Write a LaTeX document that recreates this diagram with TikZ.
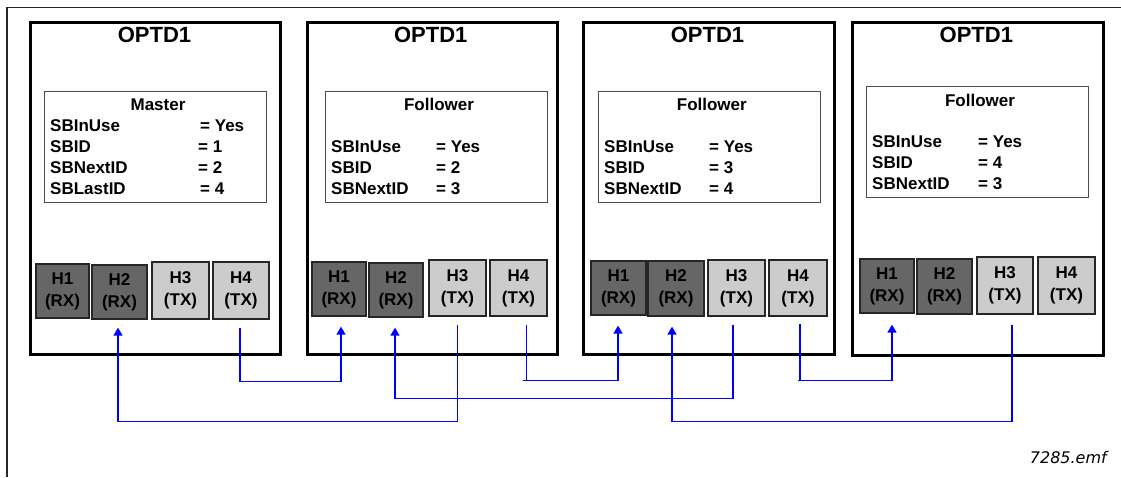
\documentclass[tikz,border=0pt]{standalone}
\usepackage{fontspec}
\setmainfont{Liberation Sans}
\newfontfamily\emffont{DejaVu Sans}
\usetikzlibrary{arrows.meta}
\definecolor{rxgray}{HTML}{666666}
\definecolor{txgray}{HTML}{CCCCCC}
\definecolor{linkblue}{HTML}{0000FF}
\begin{document}
\begin{tikzpicture}[x=1pt,y=-1pt,
  frameline/.style={draw=black!85,line width=1.4pt},
  modbox/.style={draw=black,line width=3pt,minimum width=250pt,minimum height=332pt,inner sep=0pt},
  infobox/.style={draw=black!70,line width=1pt,minimum width=222pt,minimum height=111pt,inner sep=0pt},
  modtitle/.style={font=\fontsize{22}{26}\selectfont\bfseries,inner sep=0pt,text height=15.8pt,text depth=0pt},
  infotxt/.style={font=\fontsize{17}{20}\selectfont\bfseries,inner sep=0pt,text height=12.2pt,text depth=0pt},
  infoleft/.style={infotxt,anchor=west},
  portbase/.style={draw=black!85,line width=1.3pt,inner sep=0pt,align=center,
    font=\fontsize{17}{22}\selectfont\bfseries},
  rx/.style={portbase,fill=rxgray},
  tx/.style={portbase,fill=txgray},
  conn/.style={draw=linkblue,line width=1.6pt,-{Triangle[length=8pt,width=9pt]}}
]
\useasboundingbox (0,0) rectangle (1121,477);
% outer frame (top and left edges)
\coordinate (ftl) at (7,7.5);
\coordinate (ftr) at (1121,7.5);
\coordinate (fbl) at (7,477);
\draw[frameline] (ftr) -- (ftl) -- (fbl);

% modules
\node[modbox] (m1) at (155,188) {};
\node[modbox] (m2) at (432,188) {};
\node[modbox,minimum width=251pt] (m3) at (708.5,188) {};
\node[modbox,minimum width=251pt,minimum height=333pt] (m4) at (977.5,188.5) {};

\node[modtitle] (t1) at (154.5,35) {OPTD1};
\node[modtitle] (t2) at (430.8,35) {OPTD1};
\node[modtitle] (t3) at (707.5,35) {OPTD1};
\node[modtitle] (t4) at (976.3,35) {OPTD1};

% info boxes
\node[infobox] (i1) at (155,146.5) {};
\node[infobox] (i2) at (436,146.5) {};
\node[infobox] (i3) at (709,146.5) {};
\node[infobox] (i4) at (977,141.5) {};

% module 1 (Master)
\node[infotxt] (i1h) at (158,104) {Master};
\node[infoleft] (i1l1) at (50,125) {SBInUse};
\node[infoleft] (i1l2) at (50,146) {SBID};
\node[infoleft] (i1l3) at (50,167) {SBNextID};
\node[infoleft] (i1l4) at (50,188) {SBLastID};
\node[infoleft] (i1v1) at (200,125) {= Yes};
\node[infoleft] (i1v2) at (198,146) {= 1};
\node[infoleft] (i1v3) at (198,167) {= 2};
\node[infoleft] (i1v4) at (200,188) {= 4};

% module 2
\node[infotxt] (i2h) at (439,104) {Follower};
\node[infoleft] (i2l1) at (331,146) {SBInUse};
\node[infoleft] (i2l2) at (331,167) {SBID};
\node[infoleft] (i2l3) at (331,188) {SBNextID};
\node[infoleft] (i2v1) at (436,146) {= Yes};
\node[infoleft] (i2v2) at (436,167) {= 2};
\node[infoleft] (i2v3) at (436,188) {= 3};

% module 3
\node[infotxt] (i3h) at (711.8,104) {Follower};
\node[infoleft] (i3l1) at (604,146) {SBInUse};
\node[infoleft] (i3l2) at (604,167) {SBID};
\node[infoleft] (i3l3) at (604,188) {SBNextID};
\node[infoleft] (i3v1) at (709,146) {= Yes};
\node[infoleft] (i3v2) at (709,167) {= 3};
\node[infoleft] (i3v3) at (709,188) {= 4};

% module 4
\node[infotxt] (i4h) at (980,100) {Follower};
\node[infoleft] (i4l1) at (872,141) {SBInUse};
\node[infoleft] (i4l2) at (872,162) {SBID};
\node[infoleft] (i4l3) at (872,183) {SBNextID};
\node[infoleft] (i4v1) at (978,141) {= Yes};
\node[infoleft] (i4v2) at (978,162) {= 4};
\node[infoleft] (i4v3) at (978,183) {= 3};

% ports module 1
\node[rx,minimum width=53pt,minimum height=54pt] (m1h1) at (62.5,291) {H1\\(RX)};
\node[rx,minimum width=55pt,minimum height=54pt] (m1h2) at (119.5,292) {H2\\(RX)};
\node[tx,minimum width=57pt,minimum height=57pt] (m1h3) at (180.5,290.5) {H3\\(TX)};
\node[tx,minimum width=56pt,minimum height=57pt] (m1h4) at (241,290.5) {H4\\(TX)};
% ports module 2
\node[rx,minimum width=54pt,minimum height=54pt] (m2h1) at (339,289) {H1\\(RX)};
\node[rx,minimum width=54pt,minimum height=54pt] (m2h2) at (396,290) {H2\\(RX)};
\node[tx,minimum width=57pt,minimum height=56pt] (m2h3) at (457.5,288) {H3\\(TX)};
\node[tx,minimum width=57pt,minimum height=56pt] (m2h4) at (518.5,288) {H4\\(TX)};
% ports module 3
\node[rx,minimum width=55pt,minimum height=54pt] (m3h1) at (618.5,288) {H1\\(RX)};
\node[rx,minimum width=56pt,minimum height=55pt] (m3h2) at (676,288.5) {H2\\(RX)};
\node[tx,minimum width=57pt,minimum height=56pt] (m3h3) at (736.5,288) {H3\\(TX)};
\node[tx,minimum width=58pt,minimum height=56pt] (m3h4) at (798,288) {H4\\(TX)};
% ports module 4
\node[rx,minimum width=54pt,minimum height=54pt] (m4h1) at (887,286) {H1\\(RX)};
\node[rx,minimum width=55pt,minimum height=55pt] (m4h2) at (944.5,286.5) {H2\\(RX)};
\node[tx,minimum width=56pt,minimum height=57pt] (m4h3) at (1005,285.5) {H3\\(TX)};
\node[tx,minimum width=57pt,minimum height=57pt] (m4h4) at (1066.5,285.5) {H4\\(TX)};

% connectors
\draw[conn] ([xshift=-1pt,yshift=-8pt]m1h4.south) -- ++(0,54) -| ([xshift=2pt,yshift=-10pt]m2h1.south);
\draw[conn] ([yshift=-8pt]m2h3.south) -- ++(0,97) -| ([xshift=-1.5pt,yshift=-8pt]m1h2.south);
\draw[conn] ([xshift=8pt,yshift=-8pt]m2h4.south) -- ++(0,56) -- ++(-4,0) -| ([xshift=-0.5pt,yshift=-10pt]m3h1.south);
\draw[conn] ([xshift=-3.5pt,yshift=-8pt]m3h3.south) -- ++(0,74) -| ([xshift=-1pt,yshift=-10pt]m2h2.south);
\draw[conn] ([xshift=2pt,yshift=-7pt]m3h4.south) -- ++(0,57) -- ++(-2,0) -| ([xshift=5pt,yshift=-11pt]m4h1.south);
\draw[conn] ([xshift=7pt,yshift=-10pt]m4h3.south) -- ++(0,97) -| ([xshift=-4pt,yshift=-10pt]m3h2.south);

% file tag
\node[anchor=east,inner sep=0pt,font=\emffont\itshape\fontsize{16}{19}\selectfont] (tag) at (1107,458) {7285.emf};
\end{tikzpicture}
\end{document}
